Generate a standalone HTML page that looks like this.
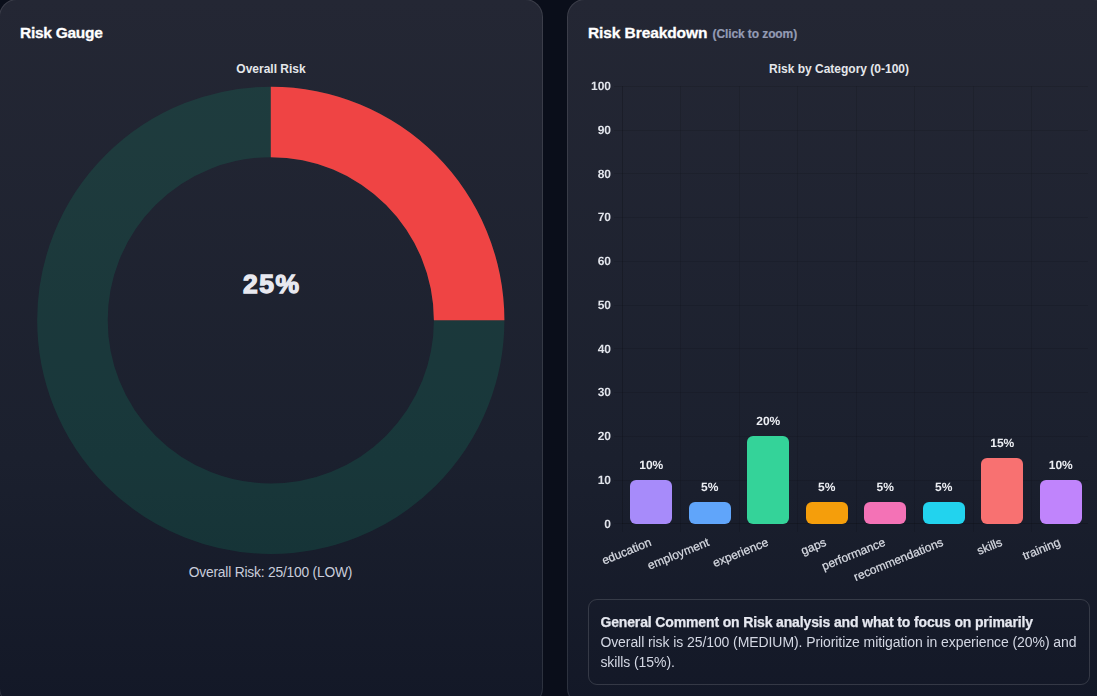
<!DOCTYPE html>
<html><head><meta charset="utf-8"><title>Risk</title>
<style>
*{box-sizing:border-box;margin:0;padding:0}
html,body{width:1097px;height:696px;overflow:hidden;background:#0a0e1a;font-family:"Liberation Sans",sans-serif}
.card{position:absolute;top:-1px;width:544px;height:707px;border:1px solid rgba(255,255,255,0.11);border-radius:18px;background:linear-gradient(180deg,#242734 0%,#1b202e 65%,#131827 100%)}
#c1{left:-1px}
#c2{left:567px}
.abs{position:absolute;white-space:nowrap}
.h{color:#fff;font-weight:bold;font-size:15.5px;line-height:20px;-webkit-text-stroke:0.3px #fff}
.ct{color:#e5e7eb;font-weight:bold;font-size:12px;line-height:14.4px;text-align:center}
.gl{position:absolute;background:rgba(0,0,0,0.1)}
.yl{position:absolute;left:561px;width:50px;text-align:right;font-weight:bold;font-size:12px;line-height:14.4px;height:14.4px;color:#e2e5ec}
.bar{position:absolute;border-radius:6px}
.dl{position:absolute;width:60px;text-align:center;font-weight:bold;font-size:12px;line-height:14.4px;color:#eceef3}
.xl{position:absolute;width:0;height:0;transform:rotate(-22.14deg);transform-origin:0 0}
.xl span{position:absolute;right:0;top:0;white-space:nowrap;font-size:12px;line-height:14.4px;color:#d6d9e1;-webkit-text-stroke:0.25px #d6d9e1}
#cm{position:absolute;left:588px;top:599px;width:502px;height:86px;border:1px solid rgba(255,255,255,0.14);border-radius:9px;padding:12px 11.4px 0;color:#d3d7e3;font-size:14px;line-height:20px}
#cm b{color:#e6e8f0;-webkit-text-stroke:0.25px #e6e8f0;letter-spacing:-0.137px;display:block;white-space:nowrap}
#cm span{letter-spacing:-0.082px;display:block;white-space:nowrap}
</style></head><body>
<div class="card" id="c1"></div>
<div class="card" id="c2"></div>

<div class="abs h" style="left:20px;top:22.7px;letter-spacing:-0.27px">Risk Gauge</div>
<div class="abs ct" style="left:171px;width:200px;top:62px">Overall Risk</div>
<svg class="abs" style="left:0;top:0" width="548" height="600" viewBox="0 0 548 600">
<circle cx="270.8" cy="320.3" r="198.35" fill="none" stroke="rgba(16,185,129,0.15)" stroke-width="70.5"/>
<path d="M270.8 86.7 A233.6 233.6 0 0 1 504.4 320.3 L433.9 320.3 A163.1 163.1 0 0 0 270.8 157.2 Z" fill="#ef4444"/>
</svg>
<div class="abs" style="left:171px;width:200px;top:267.15px;padding-left:1.6px;text-align:center;font-weight:bold;font-size:26.5px;line-height:34px;letter-spacing:1.6px;-webkit-text-stroke:1.3px #e8e9f0;color:#e8e9f0">25%</div>
<div class="abs" style="left:120.5px;width:300px;top:563.2px;text-align:center;font-size:13.8px;line-height:20px;letter-spacing:-0.2px;color:#c9cddb">Overall Risk: 25/100 (LOW)</div>

<div class="abs h" style="left:588px;top:22.6px;letter-spacing:-0.09px">Risk Breakdown <span style="font-size:12px;color:#949bb4;-webkit-text-stroke:0.2px #949bb4;letter-spacing:-0.1px;margin-left:1px">(Click to zoom)</span></div>
<div class="abs ct" style="left:739px;width:200px;top:62px">Risk by Category (0-100)</div>
<div id="cv" style="position:absolute;left:0;top:0;width:1097px;height:696px;will-change:transform;text-rendering:geometricPrecision"><div class="gl" style="left:614px;top:523px;width:474px;height:1px"></div>
<div class="gl" style="left:614px;top:480px;width:474px;height:1px"></div>
<div class="gl" style="left:614px;top:436px;width:474px;height:1px"></div>
<div class="gl" style="left:614px;top:392px;width:474px;height:1px"></div>
<div class="gl" style="left:614px;top:348px;width:474px;height:1px"></div>
<div class="gl" style="left:614px;top:305px;width:474px;height:1px"></div>
<div class="gl" style="left:614px;top:261px;width:474px;height:1px"></div>
<div class="gl" style="left:614px;top:217px;width:474px;height:1px"></div>
<div class="gl" style="left:614px;top:173px;width:474px;height:1px"></div>
<div class="gl" style="left:614px;top:130px;width:474px;height:1px"></div>
<div class="gl" style="left:614px;top:86px;width:474px;height:1px"></div>
<div class="gl" style="left:622px;top:86px;width:1px;height:446px"></div>
<div class="gl" style="left:680px;top:86px;width:1px;height:446px"></div>
<div class="gl" style="left:739px;top:86px;width:1px;height:446px"></div>
<div class="gl" style="left:797px;top:86px;width:1px;height:446px"></div>
<div class="gl" style="left:856px;top:86px;width:1px;height:446px"></div>
<div class="gl" style="left:914px;top:86px;width:1px;height:446px"></div>
<div class="gl" style="left:973px;top:86px;width:1px;height:446px"></div>
<div class="gl" style="left:1031px;top:86px;width:1px;height:446px"></div>
<div class="gl" style="left:622px;top:86px;width:1px;height:438px"></div>
<div class="gl" style="left:622px;top:523px;width:466px;height:1px"></div>
<div class="yl" style="top:516.60px">0</div>
<div class="yl" style="top:472.86px">10</div>
<div class="yl" style="top:429.12px">20</div>
<div class="yl" style="top:385.38px">30</div>
<div class="yl" style="top:341.64px">40</div>
<div class="yl" style="top:297.90px">50</div>
<div class="yl" style="top:254.16px">60</div>
<div class="yl" style="top:210.42px">70</div>
<div class="yl" style="top:166.68px">80</div>
<div class="yl" style="top:122.94px">90</div>
<div class="yl" style="top:79.20px">100</div>
<div class="bar" style="left:630.19px;top:480.06px;width:42.12px;height:43.74px;background:#a78bfa"></div>
<div class="dl" style="left:621.25px;top:457.66px">10%</div>
<div class="xl" style="left:647.84px;top:534.80px"><span>education</span></div>
<div class="bar" style="left:688.69px;top:501.93px;width:42.12px;height:21.87px;background:#60a5fa"></div>
<div class="dl" style="left:679.75px;top:479.53px">5%</div>
<div class="xl" style="left:706.34px;top:534.80px"><span>employment</span></div>
<div class="bar" style="left:747.19px;top:436.32px;width:42.12px;height:87.48px;background:#34d399"></div>
<div class="dl" style="left:738.25px;top:413.92px">20%</div>
<div class="xl" style="left:764.84px;top:534.80px"><span>experience</span></div>
<div class="bar" style="left:805.69px;top:501.93px;width:42.12px;height:21.87px;background:#f59e0b"></div>
<div class="dl" style="left:796.75px;top:479.53px">5%</div>
<div class="xl" style="left:823.34px;top:534.80px"><span>gaps</span></div>
<div class="bar" style="left:864.19px;top:501.93px;width:42.12px;height:21.87px;background:#f472b6"></div>
<div class="dl" style="left:855.25px;top:479.53px">5%</div>
<div class="xl" style="left:881.84px;top:534.80px"><span>performance</span></div>
<div class="bar" style="left:922.69px;top:501.93px;width:42.12px;height:21.87px;background:#22d3ee"></div>
<div class="dl" style="left:913.75px;top:479.53px">5%</div>
<div class="xl" style="left:940.34px;top:534.80px"><span>recommendations</span></div>
<div class="bar" style="left:981.19px;top:458.19px;width:42.12px;height:65.61px;background:#f87171"></div>
<div class="dl" style="left:972.25px;top:435.79px">15%</div>
<div class="xl" style="left:998.84px;top:534.80px"><span>skills</span></div>
<div class="bar" style="left:1039.69px;top:480.06px;width:42.12px;height:43.74px;background:#c084fc"></div>
<div class="dl" style="left:1030.75px;top:457.66px">10%</div>
<div class="xl" style="left:1057.34px;top:534.80px"><span>training</span></div></div>
<div id="cm"><b>General Comment on Risk analysis and what to focus on primarily</b><span>Overall risk is 25/100 (MEDIUM). Prioritize mitigation in experience (20%) and</span><span>skills (15%).</span></div>
</body></html>
